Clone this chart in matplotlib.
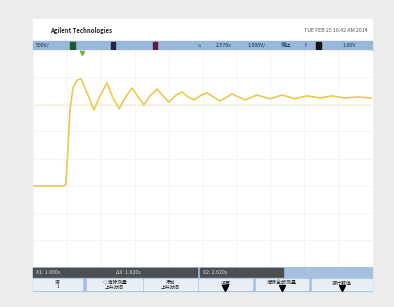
import matplotlib.pyplot as plt
from matplotlib.patches import Rectangle

plt.rcParams['font.family'] = ['Noto Sans CJK SC', 'DejaVu Sans']

# trace vertices (x in divisions 0-10, y in divisions -4..4)
t_div = [0.0, 0.91, 0.97, 1.03, 1.09, 1.18, 1.30, 1.42, 1.62, 1.80, 1.98, 2.18,
         2.36, 2.54, 2.71, 2.92, 3.10, 3.27, 3.45, 3.66, 3.83, 4.01, 4.22, 4.40,
         4.57, 4.75, 4.93, 5.13, 5.52, 5.87, 6.25, 6.61, 6.99, 7.35, 7.73, 8.08,
         8.47, 8.82, 9.20, 9.56, 10.0]
v_div = [-1.01, -1.01, -0.94, 0.31, 1.79, 2.60, 2.90, 2.93, 2.34, 1.79, 2.31, 2.79,
         2.23, 1.83, 2.23, 2.60, 2.27, 1.97, 2.31, 2.56, 2.31, 2.08, 2.34, 2.45,
         2.27, 2.16, 2.31, 2.42, 2.12, 2.38, 2.16, 2.34, 2.20, 2.34, 2.20, 2.31,
         2.23, 2.31, 2.23, 2.27, 2.23]

status_items = ['500V/', '2.570s', '1.000V/', '停止', 'f', '1.00V']
meas_labels = ['X1: 1.000s', 'ΔX: 1.620s', 'X2: 2.620s']
buttons = ['源\n1', '◁ 清除测量\n上升时间', '添加\n上升时间', '设置', '清除全部测量', '源计数值']
W, H = 394, 307

fig = plt.figure(figsize=(W / 100, H / 100), dpi=100, facecolor='#ececec')

# screen furniture in pixel coordinates
ui = fig.add_axes([0, 0, 1, 1])
ui.set_xlim(0, W)
ui.set_ylim(H, 0)
ui.axis('off')

ui.add_patch(Rectangle((33, 19), 339, 272, color='white'))
ui.text(50, 30, 'Agilent Technologies', fontsize=4.3, fontweight='bold', va='center', color='#222222')
ui.text(368, 30, 'TUE FEB 25 10:42 AM 2014', fontsize=3.8, va='center', ha='right', color='#555555')

# status bar
ui.add_patch(Rectangle((33, 41), 339, 9, color='#98b7da'))
ui.text(36, 45.5, status_items[0], fontsize=3.8, va='center', color='#1c2f4a')
ui.add_patch(Rectangle((70, 42), 5, 7, color='#1d5a2a'))
ui.add_patch(Rectangle((111, 42), 4, 7, color='#24264a'))
ui.add_patch(Rectangle((153, 42), 4, 7, color='#5a1f3a'))
ui.text(198, 45.5, '⌂', fontsize=3.8, va='center', color='#3a5a8a')
for x, s in zip([216, 247, 281, 305, 342], status_items[1:]):
    ui.text(x, 45.5, s, fontsize=3.8, va='center', color='#1c2f4a')
ui.add_patch(Rectangle((316, 42), 5, 7, color='#111111'))

ui.text(203, 261, '测量准备', fontsize=4, ha='center', va='center', color='#333333')

# measurement readout bar
ui.add_patch(Rectangle((33, 267), 339, 11, color='#a6c1df'))
for x0, x1, s in zip([33, 113, 200], [112, 197, 283], meas_labels):
    ui.add_patch(Rectangle((x0, 268), x1 - x0, 9, color='#4b4f52'))
    ui.text(x0 + 3, 272.5, s, fontsize=3.8, va='center', color='#dddddd')

# soft keys
ui.add_patch(Rectangle((33, 278), 339, 13, color='#a6c1df'))
for (x0, x1), s in zip([(33, 82), (87, 142), (144, 197), (199, 252), (256, 308), (312, 372)], buttons):
    ui.add_patch(Rectangle((x0, 279), x1 - x0, 11, color='#e8eef4'))
    xc = (x0 + x1) / 2
    if '\n' in s:
        ui.text(xc, 284.5, s, fontsize=3.4, ha='center', va='center', color='#222222', linespacing=1.0)
    else:
        ui.text(xc, 282.5, s, fontsize=3.6, ha='center', va='center', color='#222222')
        ui.plot([xc], [287.5], marker='v', markersize=4, color='black')

# scope graticule and trace
ax = fig.add_axes([33 / W, (H - 267) / H, 339 / W, 217 / H])
ax.set_xlim(0, 10)
ax.set_ylim(-4, 4)
ax.set_facecolor('white')
for s in ax.spines.values():
    s.set_visible(False)
ax.set_xticks(range(11))
ax.set_yticks(range(-4, 5))
ax.tick_params(length=0, labelbottom=False, labelleft=False)
ax.grid(True, color='#f3f3f3', linewidth=0.6)
ax.axhline(1.97, color='#f7efcf', linewidth=0.7)
ax.plot(t_div, v_div, color='#ebc951', linewidth=1.2, solid_joinstyle='round')
ax.plot([1.45], [3.9], marker='v', markersize=3, color='#7ab040')

fig.savefig('out.png', dpi=100, facecolor=fig.get_facecolor())
